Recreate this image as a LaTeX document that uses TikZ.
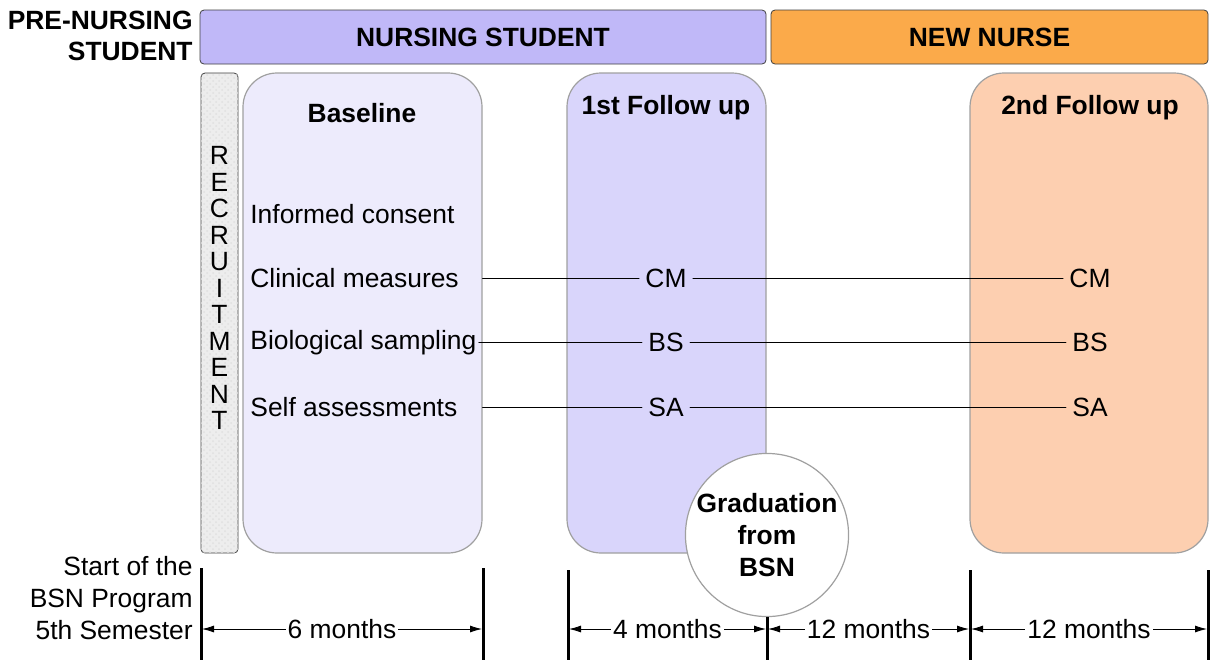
\documentclass[tikz,border=0pt]{standalone}
\usepackage{fontspec}
\setmainfont{Liberation Sans}
\usetikzlibrary{arrows.meta,positioning,patterns}
\definecolor{nursebar}{RGB}{192,184,248}
\definecolor{newbar}{RGB}{251,170,74}
\definecolor{basecol}{RGB}{237,235,252}
\definecolor{firstcol}{RGB}{217,213,251}
\definecolor{secondcol}{RGB}{253,207,176}
\definecolor{edgegray}{RGB}{160,160,160}

\begin{document}
\begin{tikzpicture}[x=0.5pt,y=-0.5pt,line cap=round,line join=round,>={Latex[length=6pt,width=3.5pt]},
	every node/.style={font=\fontsize{13.2}{15.8}\selectfont},
	bar/.style={draw=black!75,rounded corners=2pt,inner sep=0pt,minimum height=27pt,font=\fontsize{13.2}{15.8}\selectfont\bfseries},
	phase/.style={draw=edgegray,line width=0.6pt,rounded corners=17pt,inner sep=0pt,minimum height=240pt},
	title/.style={font=\fontsize{13.2}{15.8}\selectfont\bfseries},
	item/.style={anchor=west,inner sep=1pt},
	measure/.style={inner sep=3pt},
	tick/.style={line width=1.5pt,line cap=butt}]
	\useasboundingbox (0,0) rectangle (1210,660);
	\fill[white] (0,0) rectangle (1210,660);
	% stage bars
	\node[bar,fill=nursebar,minimum width=283pt] (nursing) at (483,37) {NURSING STUDENT};
	\node[bar,fill=newbar,minimum width=218.5pt] (newnurse) at (989.5,37) {NEW NURSE};
	\node[title,anchor=east,align=right,inner sep=0pt] (prenursing) at (193,36) {PRE-NURSING\\STUDENT};
	% recruitment
	\node[draw=black!75,rounded corners=2pt,fill=black!7,postaction={pattern=crosshatch dots,pattern color=black!12},inner sep=0pt,minimum width=18.5pt,minimum height=240pt] (recruit) at (219.5,313) {};
	\node[font=\fontsize{13.2}{13.25}\selectfont,align=center,inner sep=0pt] (recruittext) at (219.5,288) {R\\E\\C\\R\\U\\I\\T\\M\\E\\N\\T};
	% phases
	\node[phase,fill=basecol,minimum width=119.5pt] (baseline) at (362.5,313) {};
	\node[phase,fill=firstcol,minimum width=99.5pt] (first) at (666.5,313) {};
	\node[phase,fill=secondcol,minimum width=119pt] (second) at (1089,313) {};
	\node[title] (baselinetitle) at (362,113) {Baseline};
	\node[title] (firsttitle) at (666,108) {1st Follow up};
	\node[title] (secondtitle) at (1090,108) {2nd Follow up};
	% baseline items
	\node[item] (consent) at (248,214) {Informed consent};
	\node[item] (clinical) at (248,278) {Clinical measures};
	\node[item] (bio) at (248,343) {Biological sampling};
	\node[item] (self) at (248,407) {Self assessments};
	% follow up measures
	\node[measure] (cmone) at (666,278) {CM};
	\node[measure] (bsone) at (666,342) {BS};
	\node[measure] (saone) at (666,407) {SA};
	\node[measure] (cmtwo) at (1090,278) {CM};
	\node[measure] (bstwo) at (1090,342) {BS};
	\node[measure] (satwo) at (1090,407) {SA};
	\draw (baseline.east |- cmone) -- (cmone);
	\draw (cmone) -- (cmtwo);
	\draw (bio.east |- bsone) -- (bsone);
	\draw (bsone) -- (bstwo);
	\draw (baseline.east |- saone) -- (saone);
	\draw (saone) -- (satwo);
	% graduation
	\node[circle,draw=edgegray,line width=0.6pt,fill=white,minimum size=80pt,inner sep=0pt,title,align=center] (grad) at (767,535) {Graduation\\from\\BSN};
	% timeline
	\node[anchor=east,align=right,inner sep=0pt] (start) at (193,598) {Start of the\\BSN Program\\5th Semester};
	\coordinate (ta) at (201,568); \coordinate (tb) at (483,568); \coordinate (tc) at (568,570);
	\coordinate (te) at (970,570); \coordinate (tf) at (1208,570);
	\draw[tick] (ta) -- (ta |- 0,660);
	\draw[tick] (tb) -- (tb |- 0,660);
	\draw[tick] (tc) -- (tc |- 0,660);
	\draw[tick] (grad.south) -- (grad.south |- 0,660);
	\draw[tick] (te) -- (te |- 0,660);
	\draw[tick] (tf) -- (tf |- 0,660);
	\coordinate (da) at (202,629); \coordinate (db) at (482,629);
	\coordinate (dc) at (569,629); \coordinate (dd) at (766,629);
	\coordinate (dd2) at (768,629); \coordinate (de) at (969,629);
	\coordinate (de2) at (971,629); \coordinate (df) at (1207,629);
	\draw[<->] (da) -- node[fill=white,inner sep=1pt] (sixm) {6 months} (db);
	\draw[<->] (dc) -- node[fill=white,inner sep=1pt] (fourm) {4 months} (dd);
	\draw[<->] (dd2) -- node[fill=white,inner sep=1pt] (twelvema) {12 months} (de);
	\draw[<->] (de2) -- node[fill=white,inner sep=1pt] (twelvemb) {12 months} (df);
\end{tikzpicture}
\end{document}
